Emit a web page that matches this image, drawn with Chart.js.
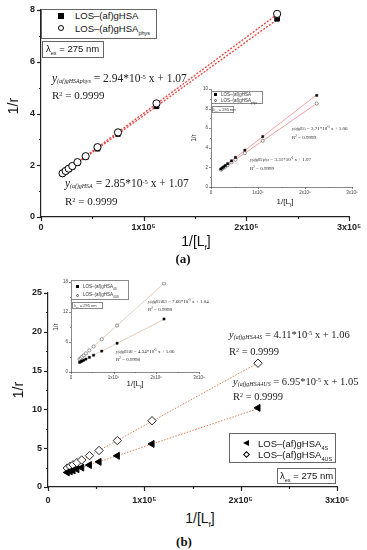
<!DOCTYPE html>
<html><head><meta charset="utf-8">
<script src="https://cdn.jsdelivr.net/npm/chart.js@4.4.1/dist/chart.umd.min.js"></script>
<style>
body{margin:0;background:#fff;}
#wrap{position:relative;width:367px;height:550px;overflow:hidden;background:#fff;font-family:"Liberation Sans",Arial,sans-serif;color:#111;}
canvas{position:absolute;}
.t{position:absolute;white-space:nowrap;line-height:1;transform:translateY(-50%);}
.c{transform:translate(-50%,-50%);}
.box{position:absolute;border:1px solid #666;box-sizing:border-box;background:#fff;}
.eq{font-family:"Liberation Serif","Times New Roman",serif;color:#222;}
.eq i.y{font-style:italic;}
.eq sub{font-style:italic;vertical-align:-0.15em;line-height:0;}
.eq sup{vertical-align:0.45em;line-height:0;}
sub,sup{line-height:0;}
.mk{position:absolute;box-sizing:border-box;}
.rot{transform:translate(-50%,-50%) rotate(-90deg);}
</style>
</head><body>
<div id="wrap">
<canvas id="cA"></canvas>
<canvas id="cAi"></canvas>
<canvas id="cB"></canvas>
<canvas id="cBi"></canvas>

<!-- ===== Panel (a) main texts ===== -->
<div class="t rot" style="left:13px;top:106px;font-size:14px;position:absolute;">1/r</div>
<div class="t c" style="left:196px;top:241px;font-size:14px;">1/[L<sub style="font-size:8px">f</sub>]</div>
<div class="t c eq" style="left:183px;top:258px;font-size:13px;font-weight:bold;color:#111">(a)</div>

<div class="box" style="left:41px;top:9px;width:116px;height:30px;"></div>
<div class="mk" style="left:58px;top:13px;width:6px;height:6px;background:#000"></div>
<div class="t" style="left:75px;top:16px;font-size:9.5px;">LOS–(af)gHSA</div>
<div class="mk" style="left:58px;top:25px;width:6px;height:6px;border:1px solid #000;border-radius:50%"></div>
<div class="t" style="left:75px;top:28.5px;font-size:9.5px;">LOS–(af)gHSA<sub style="font-size:5.5px">phys</sub></div>
<div class="box" style="left:42px;top:41px;width:62px;height:17px;"></div>
<div class="t" style="left:46px;top:49px;font-size:9.5px;">λ<sub style="font-size:5.5px">ex</sub> = 275 nm</div>

<div class="t eq" style="left:52px;top:79px;font-size:11.5px;"><i class="y">y</i><sub style="font-size:6px">(af)gHSAphys</sub> = 2.94*10<sup style="font-size:6.5px">-5</sup> x + 1.07</div>
<div class="t eq" style="left:52px;top:95px;font-size:11px;">R<sup style="font-size:6.5px">2</sup> = 0.9999</div>
<div class="t eq" style="left:65px;top:184px;font-size:11.5px;"><i class="y">y</i><sub style="font-size:6px">(af)gHSA</sub> = 2.85*10<sup style="font-size:6.5px">-5</sup> x + 1.07</div>
<div class="t eq" style="left:65px;top:201px;font-size:11px;">R<sup style="font-size:6.5px">2</sup> = 0.9999</div>

<!-- ===== Panel (a) inset texts ===== -->
<div class="t rot" style="left:194px;top:138px;font-size:6.5px;position:absolute;color:#333">1/r</div>
<div class="t c" style="left:285px;top:202px;font-size:8px;color:#222">1/[L<sub style="font-size:4.5px">f</sub>]</div>
<div class="box" style="left:211px;top:91px;width:52px;height:13px;border-color:#888"></div>
<div class="mk" style="left:214px;top:93px;width:2.5px;height:2.5px;background:#000"></div>
<div class="t" style="left:221px;top:94.5px;font-size:4.5px;color:#333">LOS–(af)gHSA</div>
<div class="mk" style="left:214px;top:99px;width:3px;height:3px;border:0.6px solid #555;border-radius:50%"></div>
<div class="t" style="left:221px;top:100.5px;font-size:4.5px;color:#333">LOS–(af)gHSA<sub style="font-size:3px">phys</sub></div>
<div class="box" style="left:212px;top:106px;width:22px;height:7px;border-color:#888"></div>
<div class="t" style="left:213px;top:109.5px;font-size:4px;color:#333">λ<sub style="font-size:2.5px">ex</sub> = 295 nm</div>
<div class="t eq" style="left:292px;top:128px;font-size:5px;"><i class="y">y</i><sub style="font-size:3px">(af)gHSA</sub> = 3.71*10<sup style="font-size:3px">-5</sup> x + 1.06</div>
<div class="t eq" style="left:292px;top:137px;font-size:5px;">R<sup style="font-size:3px">2</sup> = 0.9999</div>
<div class="t eq" style="left:250px;top:159px;font-size:5px;"><i class="y">y</i><sub style="font-size:3px">(af)gHSAphys</sub> = 3.31*10<sup style="font-size:3px">-5</sup> x + 1.07</div>
<div class="t eq" style="left:250px;top:168px;font-size:5px;">R<sup style="font-size:3px">2</sup> = 0.9999</div>

<!-- ===== Panel (b) main texts ===== -->
<div class="t rot" style="left:18px;top:390px;font-size:14px;position:absolute;">1/r</div>
<div class="t c" style="left:200px;top:518px;font-size:14px;">1/[L<sub style="font-size:8px">f</sub>]</div>
<div class="t c eq" style="left:184px;top:541px;font-size:13px;font-weight:bold;color:#111">(b)</div>

<div class="t eq" style="left:229px;top:335px;font-size:10.5px;"><i class="y">y</i><sub style="font-size:6px">(af)gHSA4S</sub> = 4.11*10<sup style="font-size:6px">-5</sup> x + 1.06</div>
<div class="t eq" style="left:229px;top:352px;font-size:10.5px;">R<sup style="font-size:6px">2</sup> = 0.9999</div>
<div class="t eq" style="left:233px;top:382px;font-size:10.5px;"><i class="y">y</i><sub style="font-size:6px">(af)gHSA4US</sub> = 6.95*10<sup style="font-size:6px">-5</sup> x + 1.05</div>
<div class="t eq" style="left:233px;top:397px;font-size:10.5px;">R<sup style="font-size:6px">2</sup> = 0.9999</div>

<div class="box" style="left:229px;top:433px;width:107px;height:30px;"></div>
<div class="mk" style="left:243px;top:440px;width:0;height:0;border-top:3.5px solid transparent;border-bottom:3.5px solid transparent;border-right:6px solid #000"></div>
<div class="t" style="left:258px;top:443.5px;font-size:9.5px;">LOS–(af)gHSA<sub style="font-size:5.5px">4S</sub></div>
<div class="mk" style="left:244px;top:452px;width:5px;height:5px;border:1px solid #000;transform:rotate(45deg)"></div>
<div class="t" style="left:258px;top:455px;font-size:9.5px;">LOS–(af)gHSA<sub style="font-size:5.5px">4US</sub></div>
<div class="box" style="left:277px;top:468px;width:59px;height:16px;"></div>
<div class="t" style="left:280px;top:476px;font-size:9.5px;">λ<sub style="font-size:5.5px">ex</sub> = 275 nm</div>

<!-- ===== Panel (b) inset texts ===== -->
<div class="t rot" style="left:56px;top:327px;font-size:6.5px;position:absolute;color:#333">1/r</div>
<div class="t c" style="left:135px;top:384px;font-size:8px;color:#222">1/[L<sub style="font-size:4.5px">f</sub>]</div>
<div class="box" style="left:71px;top:280px;width:58px;height:20px;border-color:#888"></div>
<div class="mk" style="left:76px;top:285px;width:2.5px;height:2.5px;background:#000"></div>
<div class="t" style="left:83px;top:286.5px;font-size:4.5px;color:#333">LOS–(af)gHSA<sub style="font-size:3px">4S</sub></div>
<div class="mk" style="left:76px;top:293.5px;width:3px;height:3px;border:0.6px solid #555;border-radius:50%"></div>
<div class="t" style="left:83px;top:295px;font-size:4.5px;color:#333">LOS–(af)gHSA<sub style="font-size:3px">4US</sub></div>
<div class="box" style="left:72px;top:302px;width:31px;height:7px;border-color:#888"></div>
<div class="t" style="left:74px;top:305.5px;font-size:4px;color:#333">λ<sub style="font-size:2.5px">ex</sub> = 295 nm</div>
<div class="t eq" style="left:148px;top:301px;font-size:5px;"><i class="y">y</i><sub style="font-size:3px">(af)gHSA4US</sub> = 7.66*10<sup style="font-size:3px">-5</sup> x + 1.04</div>
<div class="t eq" style="left:148px;top:309px;font-size:5px;">R<sup style="font-size:3px">2</sup> = 0.9998</div>
<div class="t eq" style="left:116px;top:351px;font-size:5px;"><i class="y">y</i><sub style="font-size:3px">(af)gHSA4S</sub> = 4.34*10<sup style="font-size:3px">-5</sup> x + 1.06</div>
<div class="t eq" style="left:116px;top:359px;font-size:5px;">R<sup style="font-size:3px">2</sup> = 0.9998</div>
</div>

<script>
// ================= DATA =================
// x tick labels (shared by all four plots)
const xTickLabels = ['0', '1x10\u2075', '2x10\u2075', '3x10\u2075'];

// Panel (a) main, λex = 275 nm
const xA       = [2.1e4, 2.4e4, 2.7e4, 3.05e4, 3.55e4, 4.35e4, 5.5e4, 7.5e4, 1.125e5, 2.3e5];
const yA_gHSA  = [1.67, 1.76, 1.84, 1.94, 2.08, 2.31, 2.64, 3.21, 4.28, 7.66];
const yA_phys  = [1.69, 1.78, 1.87, 1.97, 2.12, 2.35, 2.70, 3.27, 4.39, 7.85];
const fitA_x    = [2.0e4, 2.3e5];
const fitA_gHSA = [1.64, 7.63];
const fitA_phys = [1.66, 7.83];

// Panel (a) inset, λex = 295 nm
const xAi       = [2.1e4, 2.4e4, 2.7e4, 3.05e4, 3.55e4, 4.35e4, 5.2e4, 7.2e4, 1.1e5, 2.25e5];
const yAi_gHSA  = [1.84, 1.95, 2.06, 2.19, 2.38, 2.67, 3.02, 3.76, 5.14, 9.35];
const yAi_phys  = [1.77, 1.86, 1.96, 2.08, 2.24, 2.51, 2.79, 3.45, 4.71, 8.52];
const fitAi_x    = [2.0e4, 2.25e5];
const fitAi_gHSA = [1.80, 9.41];
const fitAi_phys = [1.73, 8.52];

// Panel (b) main, λex = 275 nm
const xB      = [2.0e4, 2.3e4, 2.6e4, 3.0e4, 3.5e4, 4.3e4, 5.3e4, 7.2e4, 1.08e5, 2.18e5];
const yB_4S   = [1.88, 2.01, 2.13, 2.29, 2.50, 2.83, 3.24, 4.02, 5.55, 10.2];
const yB_4US  = [2.44, 2.65, 2.86, 3.14, 3.48, 4.04, 4.70, 5.98, 8.54, 15.95];
const fitB_x   = [2.0e4, 2.18e5];
const fitB_4S  = [1.88, 10.1];
const fitB_4US = [2.44, 16.0];

// Panel (b) inset, λex = 295 nm
const xBi      = [2.0e4, 2.3e4, 2.6e4, 3.0e4, 3.5e4, 4.3e4, 5.3e4, 7.2e4, 1.08e5, 2.18e5];
const yBi_4S   = [1.93, 2.06, 2.19, 2.36, 2.58, 2.93, 3.36, 4.18, 5.75, 10.6];
const yBi_4US  = [2.57, 2.80, 3.03, 3.34, 3.72, 4.33, 5.10, 6.56, 9.31, 17.7];
const fitBi_x   = [2.0e4, 2.18e5];
const fitBi_4S  = [1.93, 10.52];
const fitBi_4US = [2.57, 17.74];

// ================= HELPERS =================
const pts = (xs, ys) => xs.map((x, i) => ({x, y: ys[i]}));

const tickPlugin = {
  id: 'mticks',
  afterDraw(chart, args, o) {
    const ctx = chart.ctx, xs = chart.scales.x, ys = chart.scales.y;
    ctx.save();
    ctx.strokeStyle = o.color; ctx.lineWidth = o.width;
    xs.ticks.forEach(t => {
      const p = Math.round(xs.getPixelForValue(t.value)) + 0.5;
      const L = t.label !== '' ? o.major : o.minor;
      ctx.beginPath(); ctx.moveTo(p, xs.top); ctx.lineTo(p, xs.top + L); ctx.stroke();
    });
    ys.ticks.forEach(t => {
      const p = Math.round(ys.getPixelForValue(t.value)) + 0.5;
      const L = t.label !== '' ? o.major : o.minor;
      ctx.beginPath(); ctx.moveTo(ys.right, p); ctx.lineTo(ys.right - L, p); ctx.stroke();
    });
    ctx.restore();
  }
};

function mk(id, box, area, sx, sy, datasets, tk) {
  const cv = document.getElementById(id);
  cv.width = box.w; cv.height = box.h;
  cv.style.left = box.l + 'px'; cv.style.top = box.t + 'px';
  const font = {family: '"Liberation Sans", Arial, sans-serif', size: tk.font, weight: tk.bold ? 'bold' : 'normal'};
  return new Chart(cv, {
    type: 'scatter',
    data: {datasets},
    options: {
      responsive: false, animation: false, devicePixelRatio: 1,
      layout: {padding: {left: 0, top: area.t - box.t, right: box.l + box.w - area.r, bottom: 0}},
      plugins: {legend: {display: false}, tooltip: {enabled: false}, mticks: tk},
      scales: {
        x: {
          type: 'linear', min: sx.min, max: sx.max,
          afterFit: s => { s.height = box.t + box.h - area.b; },
          grid: {display: false, drawTicks: true, tickLength: tk.major},
          border: {display: true, color: tk.color, width: tk.width},
          ticks: {stepSize: sx.step, autoSkip: false, maxRotation: 0, padding: tk.xpad, font, color: tk.lab,
                  callback: v => (Math.abs(v % sx.major) < 1e-6 ? xTickLabels[Math.round(v / sx.major)] : '')}
        },
        y: {
          type: 'linear', min: sy.min, max: sy.max,
          afterFit: s => { s.width = area.l - box.l; },
          grid: {display: false, drawTicks: true, tickLength: tk.major},
          border: {display: true, color: tk.color, width: tk.width},
          ticks: {stepSize: sy.step, autoSkip: false, padding: tk.ypad, font, color: tk.lab,
                  callback: v => (Math.abs(v % sy.major) < 1e-6 ? String(Math.round(v)) : '')}
        }
      }
    },
    plugins: [tickPlugin]
  });
}

// ================= PANEL (a) MAIN =================
// dataset 0 is drawn on top: open circles over filled squares
mk('cA', {l: 0, t: 0, w: 367, h: 232}, {l: 41, t: 10, r: 349, b: 217},
  {min: 0, max: 3e5, step: 5e4, major: 1e5}, {min: 0, max: 8, step: 1, major: 2},
  [
    {data: pts(xA, yA_phys), pointStyle: 'circle', pointRadius: 3.6, backgroundColor: '#fff', borderColor: '#000', borderWidth: 1},
    {data: pts(xA, yA_gHSA), pointStyle: 'rect', pointRadius: 3.3, backgroundColor: '#000', borderColor: '#000', borderWidth: 1},
    {data: pts(fitA_x, fitA_gHSA), showLine: true, pointRadius: 0, borderColor: '#e8403c', borderWidth: 1.3, borderDash: [2, 1.5]},
    {data: pts(fitA_x, fitA_phys), showLine: true, pointRadius: 0, borderColor: '#e8403c', borderWidth: 1.3, borderDash: [2, 1.5]}
  ],
  {major: 4, minor: 2, color: '#222', width: 1.2, font: 9, bold: true, lab: '#222', xpad: 1, ypad: 2});

// ================= PANEL (a) INSET =================
mk('cAi', {l: 186, t: 84, w: 181, h: 116}, {l: 211, t: 89, r: 352, b: 187},
  {min: 0, max: 3e5, step: 5e4, major: 1e5}, {min: 0, max: 10, step: 1, major: 2},
  [
    {data: pts(xAi, yAi_gHSA), pointStyle: 'rect', pointRadius: 1.5, backgroundColor: '#000', borderColor: '#000', borderWidth: 0.5},
    {data: pts(xAi, yAi_phys), pointStyle: 'circle', pointRadius: 1.6, backgroundColor: '#fff', borderColor: '#555', borderWidth: 0.6},
    {data: pts(fitAi_x, fitAi_gHSA), showLine: true, pointRadius: 0, borderColor: '#f3a0a0', borderWidth: 1},
    {data: pts(fitAi_x, fitAi_phys), showLine: true, pointRadius: 0, borderColor: '#f3a0a0', borderWidth: 1}
  ],
  {major: 2, minor: 1, color: '#555', width: 0.7, font: 4.5, bold: false, lab: '#444', xpad: 1, ypad: 1});

// ================= PANEL (b) MAIN =================
mk('cB', {l: 0, t: 275, w: 367, h: 230}, {l: 48, t: 293, r: 337, b: 487},
  {min: 0, max: 3e5, step: 5e4, major: 1e5}, {min: 0, max: 25, step: 2.5, major: 5},
  [
    {data: pts(xB, yB_4S), pointStyle: 'triangle', rotation: -90, pointRadius: 4, backgroundColor: '#000', borderColor: '#000', borderWidth: 1},
    {data: pts(xB, yB_4US), pointStyle: 'rectRot', pointRadius: 4.2, backgroundColor: '#fff', borderColor: '#111', borderWidth: 0.9},
    {data: pts(fitB_x, fitB_4S), showLine: true, pointRadius: 0, borderColor: '#d98050', borderWidth: 1, borderDash: [1.5, 1.5]},
    {data: pts(fitB_x, fitB_4US), showLine: true, pointRadius: 0, borderColor: '#d98050', borderWidth: 1, borderDash: [1.5, 1.5]}
  ],
  {major: 4, minor: 2, color: '#222', width: 1.2, font: 9, bold: true, lab: '#222', xpad: 4, ypad: 2});

// ================= PANEL (b) INSET =================
mk('cBi', {l: 50, t: 276, w: 160, h: 108}, {l: 71, t: 282, r: 199, b: 372},
  {min: 0, max: 3e5, step: 5e4, major: 1e5}, {min: 0, max: 18, step: 3, major: 6},
  [
    {data: pts(xBi, yBi_4S), pointStyle: 'rect', pointRadius: 1.5, backgroundColor: '#000', borderColor: '#000', borderWidth: 0.5},
    {data: pts(xBi, yBi_4US), pointStyle: 'circle', pointRadius: 1.6, backgroundColor: '#fff', borderColor: '#555', borderWidth: 0.6},
    {data: pts(fitBi_x, fitBi_4S), showLine: true, pointRadius: 0, borderColor: '#e6cdb8', borderWidth: 1},
    {data: pts(fitBi_x, fitBi_4US), showLine: true, pointRadius: 0, borderColor: '#e6cdb8', borderWidth: 1}
  ],
  {major: 2, minor: 1, color: '#555', width: 0.7, font: 4.5, bold: false, lab: '#444', xpad: 1, ypad: 1});
</script>
</body></html>
